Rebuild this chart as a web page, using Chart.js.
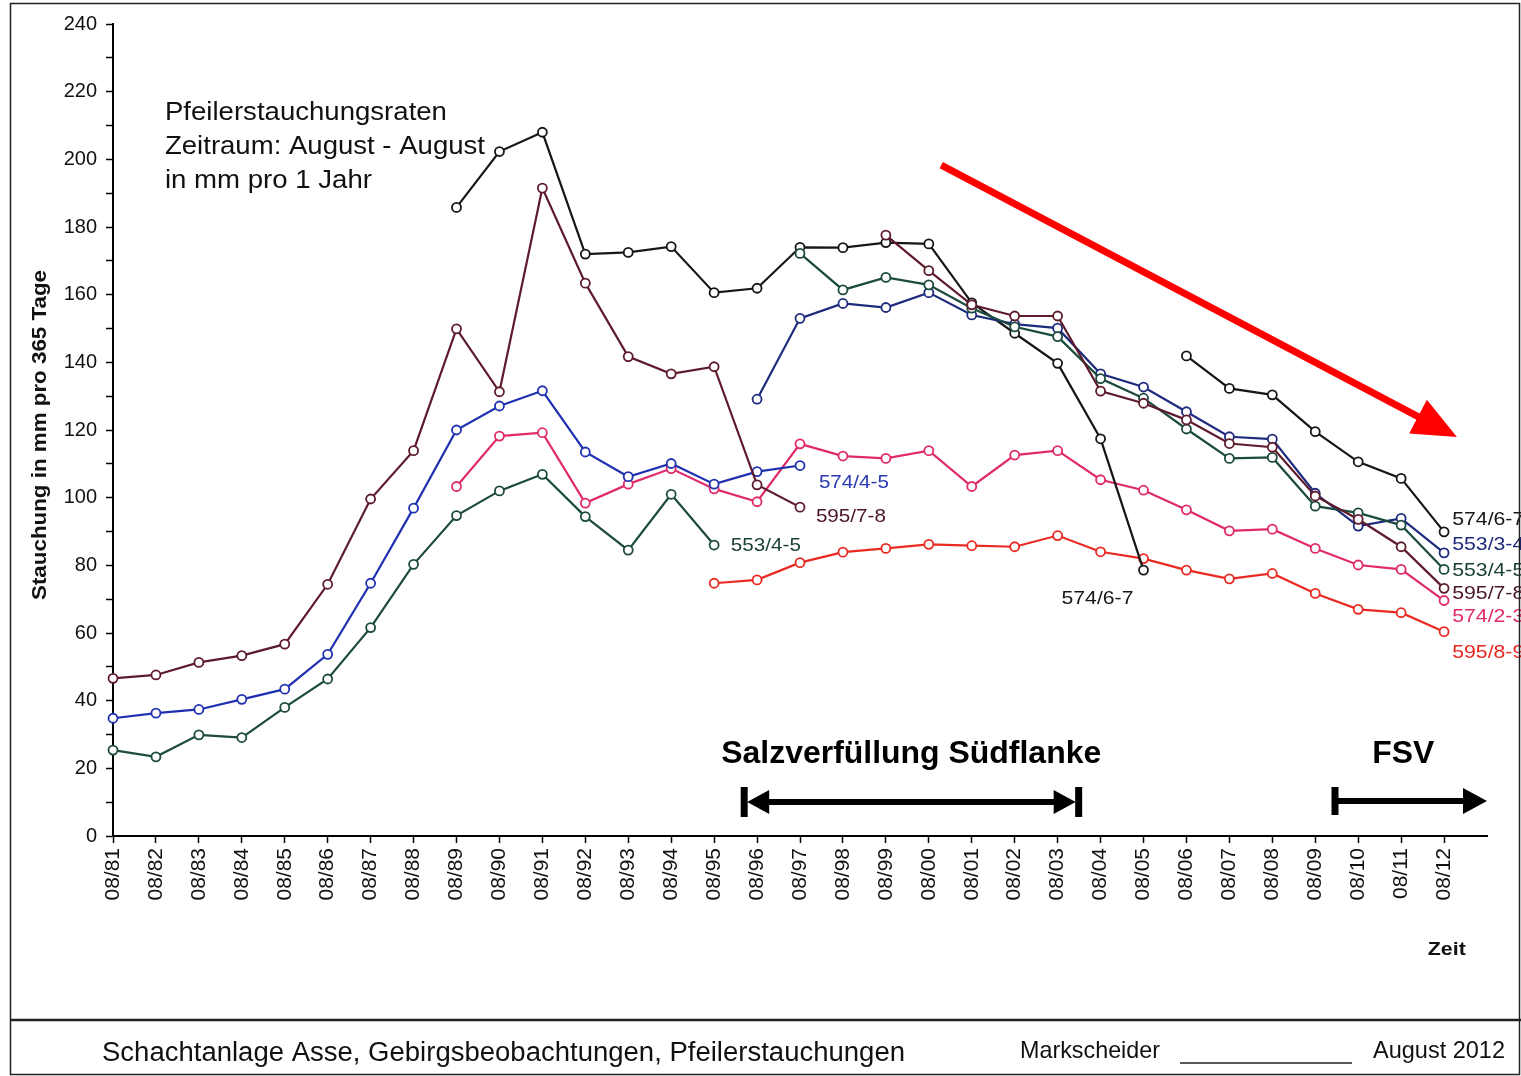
<!DOCTYPE html>
<html>
<head>
<meta charset="utf-8">
<script src="https://cdn.jsdelivr.net/npm/chart.js@4.4.1/dist/chart.umd.min.js"></script>
<style>
  html, body { margin: 0; padding: 0; background: #fff; }
  #wrap { width: 1521px; height: 1076px; position: relative; }
</style>
</head>
<body>
<div id="wrap"><canvas id="chart"></canvas></div>
<script>
// x categories (August to August), last slot is empty so the axis runs on past 08/12
const years = ['08/81','08/82','08/83','08/84','08/85','08/86','08/87','08/88','08/89','08/90',
  '08/91','08/92','08/93','08/94','08/95','08/96','08/97','08/98','08/99','08/00',
  '08/01','08/02','08/03','08/04','08/05','08/06','08/07','08/08','08/09','08/10','08/11','08/12', ''];

// series values, each with the index of its first year
const s595_78a = [46.6, 47.6, 51.3, 53.3, 56.7, 74.4, 99.6, 113.9, 149.9, 131.3, 191.5, 163.4, 141.7, 136.6, 138.7, 103.8, 97.2];
const s595_78aStart = 0;
const s574_45 = [34.8, 36.3, 37.4, 40.4, 43.4, 53.7, 74.7, 96.9, 120.0, 127.1, 131.6, 113.5, 106.2, 110.1, 104.0, 107.7, 109.5];
const s574_45Start = 0;
const s553_45a = [25.4, 23.4, 29.9, 29.1, 38.0, 46.4, 61.6, 80.3, 94.7, 102.0, 106.9, 94.4, 84.5, 101.0, 86.0];
const s553_45aStart = 0;
const s574_67a = [185.8, 202.3, 208.0, 172.0, 172.5, 174.2, 160.6, 161.9, 174.0, 173.9, 175.4, 175.0, 157.6, 148.6, 139.7, 117.4, 78.6];
const s574_67aStart = 8;
const s574_23 = [103.3, 118.2, 119.2, 98.4, 104.0, 108.6, 102.6, 98.8, 115.9, 112.3, 111.6, 113.9, 103.3, 112.6, 113.9, 105.3, 102.2, 96.4, 90.2, 90.7, 85.0, 80.1, 78.8, 69.6];
const s574_23Start = 8;
const s595_89 = [74.7, 75.7, 80.8, 83.9, 85.0, 86.2, 85.8, 85.5, 88.8, 84.0, 82.0, 78.6, 76.0, 77.6, 71.7, 67.0, 66.0, 60.4];
const s595_89Start = 14;
const s553_34 = [129.1, 153.0, 157.4, 156.2, 160.6, 154.0, 151.3, 150.1, 136.6, 132.7, 125.4, 118.0, 117.3, 101.3, 91.6, 93.9, 83.7];
const s553_34Start = 15;
const s553_45b = [172.2, 161.4, 165.1, 162.9, 156.0, 150.5, 147.6, 135.2, 129.4, 120.3, 111.6, 111.9, 97.5, 95.5, 91.9, 78.8];
const s553_45bStart = 16;
const s595_78b = [177.6, 167.1, 157.0, 153.7, 153.7, 131.5, 127.9, 123.0, 116.0, 114.9, 100.5, 93.6, 85.5, 73.2];
const s595_78bStart = 18;
const s574_67b = [141.9, 132.3, 130.4, 119.5, 110.6, 105.7, 89.9];
const s574_67bStart = 25;

const yTicks = [0, 20, 40, 60, 80, 100, 120, 140, 160, 180, 200, 220, 240];

const C_BLACK = '#161616';
const C_MAROON = '#5e1b2b';
const C_BLUE = '#1f30b0';
const C_NAVY = '#1e2a7c';
const C_GREEN = '#1b4a3e';
const C_PINK = '#e02a6c';
const C_RED = '#ea2a22';

const pad = (start, vals) => Array(start).fill(null).concat(vals);

function series(label, start, vals, color) {
  return {
    label: label,
    data: pad(start, vals),
    borderColor: color,
    backgroundColor: '#ffffff',
    borderWidth: 2.2,
    pointRadius: 4.5,
    pointBorderWidth: 1.8,
    pointBackgroundColor: '#ffffff',
    pointBorderColor: color,
    tension: 0,
    spanGaps: false,
    clip: false
  };
}

// text fitted to a target width (the scan uses a condensed face)
function fitText(ctx, text, x, y, width, font, color, align, rot) {
  ctx.save();
  ctx.font = font;
  ctx.fillStyle = color;
  ctx.textBaseline = 'middle';
  ctx.textAlign = align || 'left';
  const w = ctx.measureText(text).width;
  ctx.translate(x, y);
  if (rot) ctx.rotate(rot);
  ctx.scale(width / w, 1);
  ctx.fillText(text, 0, 0);
  ctx.restore();
}

function arrowHead(ctx, tx, ty, ang, len, half) {
  ctx.beginPath();
  ctx.moveTo(tx, ty);
  ctx.lineTo(tx - len * Math.cos(ang) + half * Math.sin(ang), ty - len * Math.sin(ang) - half * Math.cos(ang));
  ctx.lineTo(tx - len * Math.cos(ang) - half * Math.sin(ang), ty - len * Math.sin(ang) + half * Math.cos(ang));
  ctx.closePath();
  ctx.fill();
}

const decor = {
  id: 'decor',
  beforeDraw(chart) {
    const ctx = chart.ctx;
    ctx.save();
    ctx.fillStyle = '#fff';
    ctx.fillRect(0, 0, chart.width, chart.height);
    ctx.restore();
  },
  afterDraw(chart) {
    const ctx = chart.ctx;
    const xs = chart.scales.x, ys = chart.scales.y;
    const X = v => xs.getPixelForValue(v);
    const Y = v => ys.getPixelForValue(v);

    // heading inside the plot
    const hx = X(1.21);
    fitText(ctx, 'Pfeilerstauchungsraten', hx, Y(213.7), 282, '25px "Liberation Sans", Arial', '#111');
    fitText(ctx, 'Zeitraum: August - August', hx, Y(203.6), 320, '25px "Liberation Sans", Arial', '#111');
    fitText(ctx, 'in mm pro 1 Jahr', hx, Y(193.6), 207, '25px "Liberation Sans", Arial', '#111');

    // series labels
    const f = '19px "Liberation Sans", Arial';
    fitText(ctx, '574/4-5', X(16.44), Y(104.3), 70, f, '#2a3ab4');
    fitText(ctx, '595/7-8', X(16.37), Y(94.3), 70, f, '#4a1624');
    fitText(ctx, '553/4-5', X(14.39), Y(85.7), 70, f, '#173f35');
    fitText(ctx, '574/6-7', X(22.09), Y(70.0), 72, f, '#161616');
    fitText(ctx, '574/6-7', X(31.19), Y(93.4), 72, f, '#161616');
    fitText(ctx, '553/3-4', X(31.19), Y(86.0), 72, f, '#1e2a7c');
    fitText(ctx, '553/4-5', X(31.19), Y(78.3), 72, f, '#173f35');
    fitText(ctx, '595/7-8', X(31.19), Y(71.5), 72, f, '#4a1624');
    fitText(ctx, '574/2-3', X(31.19), Y(64.7), 72, f, '#e02a6c');
    fitText(ctx, '595/8-9', X(31.19), Y(54.1), 72, f, '#e8281f');

    // red trend arrow
    ctx.save();
    const ax0 = X(19.29), ay0 = Y(198.3), ax1 = X(31.30), ay1 = Y(117.9);
    const ang = Math.atan2(ay1 - ay0, ax1 - ax0);
    ctx.strokeStyle = '#ff0000';
    ctx.fillStyle = '#ff0000';
    ctx.lineWidth = 7;
    ctx.beginPath();
    ctx.moveTo(ax0, ay0);
    ctx.lineTo(ax1 - 30 * Math.cos(ang), ay1 - 30 * Math.sin(ang));
    ctx.stroke();
    arrowHead(ctx, ax1, ay1, ang, 44, 19);
    ctx.restore();

    // Salzverfüllung Südflanke + FSV
    fitText(ctx, 'Salzverfüllung Südflanke', X(18.59), Y(24.2), 380, 'bold 31px "Liberation Sans", Arial', '#000', 'center');
    fitText(ctx, 'FSV', X(30.05), Y(24.2), 62, 'bold 31px "Liberation Sans", Arial', '#000', 'center');
    ctx.save();
    ctx.strokeStyle = '#000';
    ctx.fillStyle = '#000';
    const ay = Y(10.05);
    const b0 = X(14.70), b1 = X(22.49), b2 = X(28.46), b3 = X(32.0);
    ctx.lineWidth = 7;
    ctx.beginPath();
    ctx.moveTo(b0, ay - 15); ctx.lineTo(b0, ay + 15);
    ctx.moveTo(b1, ay - 15); ctx.lineTo(b1, ay + 15);
    ctx.moveTo(b2, ay - 15); ctx.lineTo(b2, ay + 13);
    ctx.stroke();
    ctx.lineWidth = 6;
    ctx.beginPath();
    ctx.moveTo(b0 + 15, ay); ctx.lineTo(b1 - 15, ay);
    ctx.moveTo(b2, ay - 1); ctx.lineTo(b3 - 18, ay - 1);
    ctx.stroke();
    arrowHead(ctx, b0 + 3, ay, Math.PI, 22, 12);
    arrowHead(ctx, b1 - 3, ay, 0, 22, 12);
    arrowHead(ctx, b3, ay - 1, 0, 24, 13);
    ctx.restore();

    // axis titles
    fitText(ctx, 'Stauchung in mm pro 365 Tage', 40, (chart.chartArea.top + chart.chartArea.bottom) / 2 + 5, 330,
      'bold 20px "Liberation Sans", Arial', '#111', 'center', -Math.PI / 2);
    fitText(ctx, 'Zeit', X(30.62), 950, 38, 'bold 19px "Liberation Sans", Arial', '#111');

    // frame and footer
    ctx.save();
    ctx.strokeStyle = '#222';
    ctx.lineWidth = 1.5;
    ctx.strokeRect(10.5, 3.5, 1509, 1071);
    ctx.lineWidth = 2.5;
    ctx.beginPath();
    ctx.moveTo(10, 1020); ctx.lineTo(1521, 1020);
    ctx.stroke();
    ctx.lineWidth = 1.5;
    ctx.beginPath();
    ctx.moveTo(1180, 1063); ctx.lineTo(1352, 1063);
    ctx.stroke();
    ctx.restore();
    fitText(ctx, 'Schachtanlage Asse, Gebirgsbeobachtungen, Pfeilerstauchungen', 102, 1054, 803, '27px "Liberation Sans", Arial', '#111');
    fitText(ctx, 'Markscheider', 1020, 1051, 140, '24px "Liberation Sans", Arial', '#111');
    fitText(ctx, 'August 2012', 1373, 1051, 132, '24px "Liberation Sans", Arial', '#111');
  }
};

new Chart(document.getElementById('chart'), {
  type: 'line',
  data: {
    labels: years,
    datasets: [
      series('574/6-7', s574_67bStart, s574_67b, C_BLACK),
      series('595/7-8', s595_78bStart, s595_78b, C_MAROON),
      series('553/4-5', s553_45bStart, s553_45b, C_GREEN),
      series('553/3-4', s553_34Start, s553_34, C_NAVY),
      series('574/6-7', s574_67aStart, s574_67a, C_BLACK),
      series('595/7-8', s595_78aStart, s595_78a, C_MAROON),
      series('574/4-5', s574_45Start, s574_45, C_BLUE),
      series('553/4-5', s553_45aStart, s553_45a, C_GREEN),
      series('574/2-3', s574_23Start, s574_23, C_PINK),
      series('595/8-9', s595_89Start, s595_89, C_RED)
    ]
  },
  options: {
    responsive: true,
    maintainAspectRatio: false,
    animation: false,
    events: [],
    layout: { padding: { top: 24, right: 34, left: 0, bottom: 0 } },
    plugins: { legend: { display: false }, tooltip: { enabled: false }, title: { display: false } },
    scales: {
      x: {
        type: 'category',
        offset: false,
        grid: {
          drawOnChartArea: false,
          tickLength: 7,
          tickWidth: 1.5,
          tickColor: c => (c.index === years.length - 1 ? 'rgba(0,0,0,0)' : '#000')
        },
        border: { display: true, color: '#000', width: 2 },
        ticks: {
          autoSkip: false,
          maxRotation: 90,
          minRotation: 90,
          padding: 5,
          color: '#111',
          font: { family: '"Liberation Sans", Arial', size: 21 }
        },
        afterFit: s => { s.height = 240; }
      },
      y: {
        min: 0,
        max: 240,
        grid: { drawOnChartArea: false, tickLength: 7, tickWidth: 1.5, tickColor: '#000' },
        border: { display: true, color: '#000', width: 2 },
        ticks: {
          stepSize: 10,
          maxTicksLimit: 30,
          padding: 9,
          color: '#111',
          font: { family: '"Liberation Sans", Arial', size: 20 },
          callback: v => (yTicks.includes(v) ? String(v) : '')
        },
        afterFit: s => { s.width = 113; }
      }
    }
  },
  plugins: [decor]
});
</script>
</body>
</html>
